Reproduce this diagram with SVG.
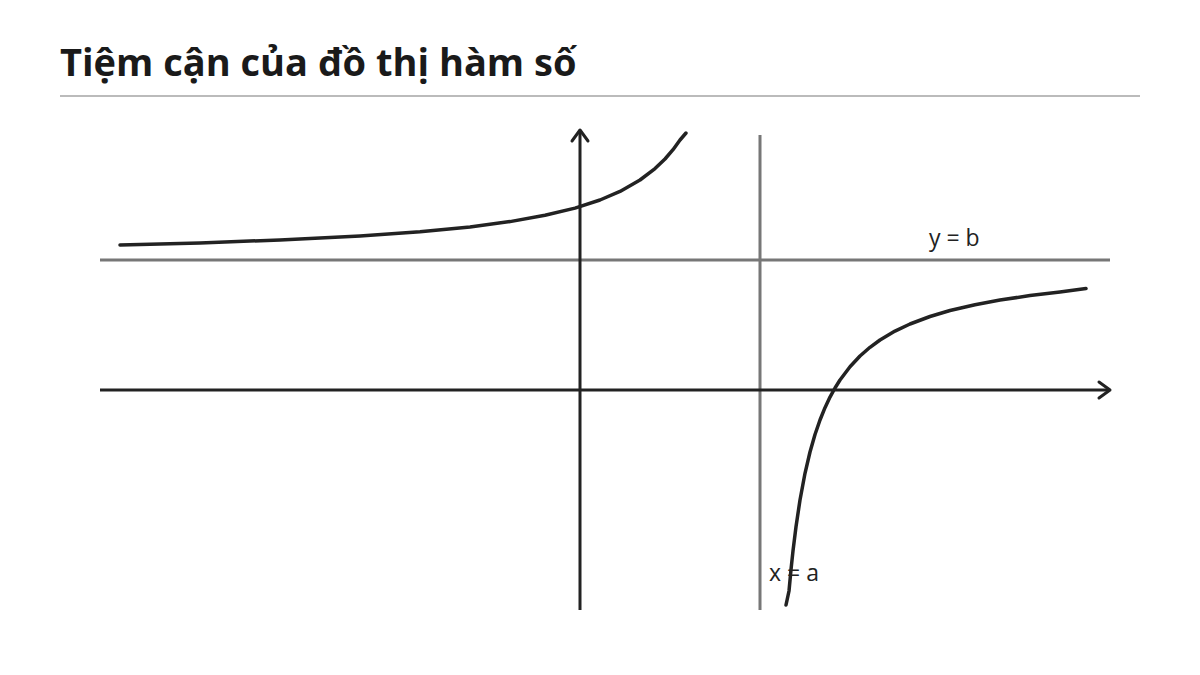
<svg xmlns="http://www.w3.org/2000/svg" width="1200" height="675" viewBox="0 0 1200 675">
<style>
.title{font-family:"Open Sans","Noto Sans",sans-serif;font-weight:700;font-size:38px;fill:#1a1a1a}
.lbl{font-family:"Open Sans","Noto Sans",sans-serif;font-size:23px;fill:#222}
.axis{stroke:#222;stroke-width:3;fill:none}
.asym{stroke:#777;stroke-width:3;fill:none}
.curve{stroke:#222;stroke-width:3.5;fill:none;stroke-linejoin:round;stroke-linecap:round}
.head{stroke:#222;stroke-width:3;fill:none;stroke-linecap:round;stroke-linejoin:round}
</style>
<rect width="1200" height="675" fill="#fff"/>
<g id="title">
<text class="title" x="60" y="76">Tiệm cận của đồ thị hàm số</text>
<line x1="60" y1="96" x2="1140" y2="96" stroke="#bbb" stroke-width="2"/>
</g>
<g id="connectors">
<line id="asym-h" class="asym" x1="100" y1="260" x2="1110" y2="260"/>
<line id="asym-v" class="asym" x1="760" y1="135" x2="760" y2="610"/>
<line id="x-axis" class="axis" x1="100" y1="390" x2="1109" y2="390"/>
<polyline class="head" points="1099,382 1110,390 1099,398"/>
<line id="y-axis" class="axis" x1="580" y1="610" x2="580" y2="131"/>
<polyline class="head" points="572,141 580,130 588,141"/>
</g>
<g id="branch-left">
<polyline class="curve" points="120,245 200,242.9 280,240 360,236 420,231.8 470,226.9 510,221.6 545,215.3 575,208.1 600,200 620,191.4 640,180 655,168.6 665,159 673,149.7 680,140 686,133"/>
</g>
<g id="branch-right">
<polyline class="curve" points="786,605 789,591 791,569.7 793,550.9 796,526.7 800,500 805,473.3 810,452 815,434.5 820,420 825,407.7 830,397.1 835,388 840,380 850,366.7 860,356 870,347.3 880,340 895,331.1 910,324 930,316.5 950,310.5 975,304.7 1000,300 1030,295.6 1060,292 1086,288.5"/>
</g>
<g id="label-yb"><text class="lbl" x="929" y="246">y = b</text></g>
<g id="label-xa"><text class="lbl" x="769" y="581">x = a</text></g>
</svg>
